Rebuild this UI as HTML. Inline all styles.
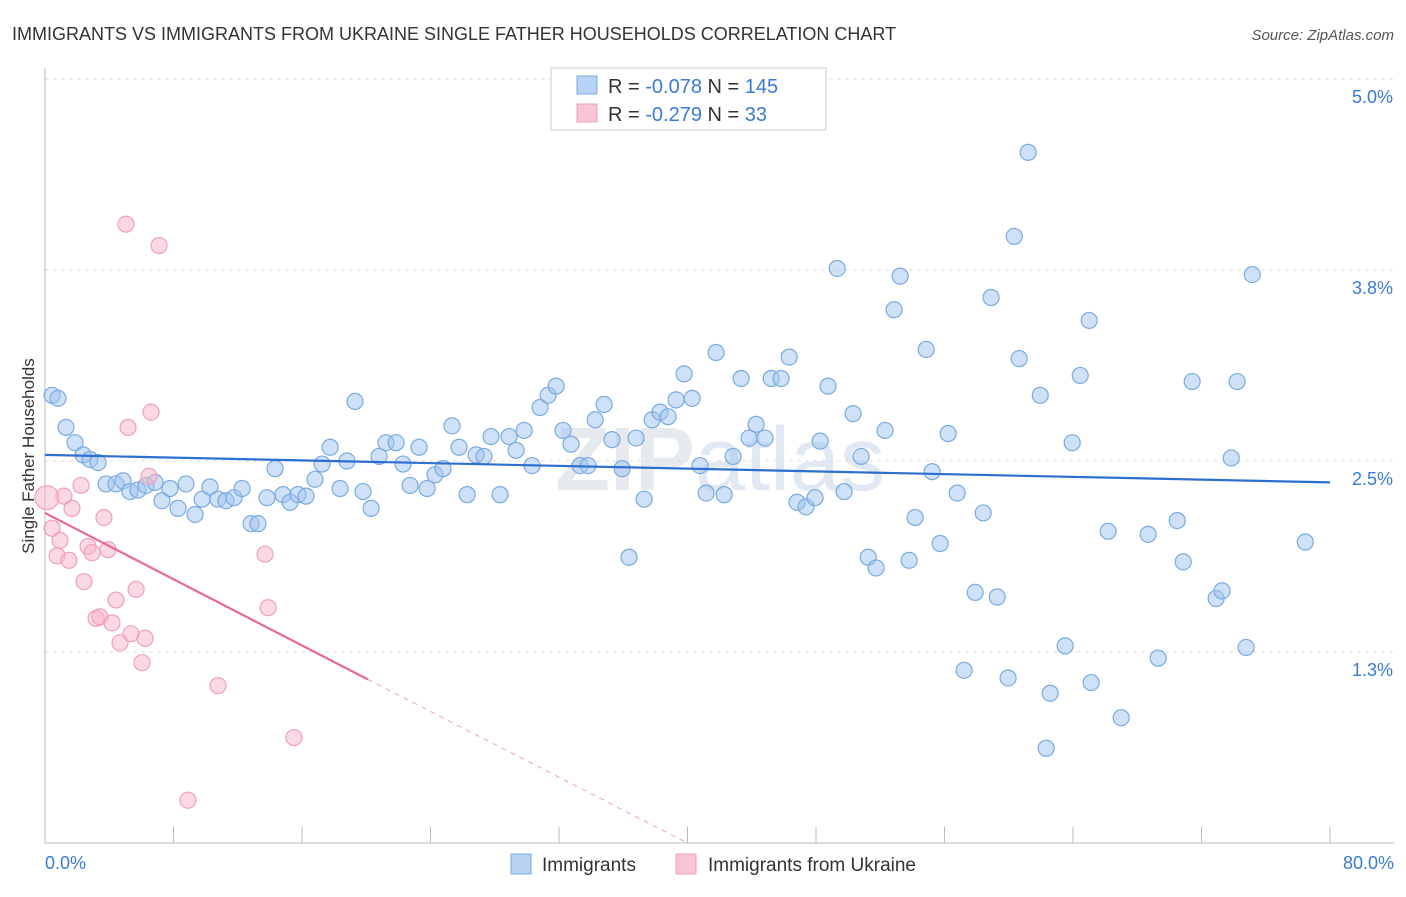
<!DOCTYPE html>
<html><head><meta charset="utf-8"><style>
body{margin:0;background:#fff;font-family:"Liberation Sans",sans-serif;}
svg text{font-family:"Liberation Sans",sans-serif;}
</style></head><body>
<svg id="chart" width="1406" height="892" viewBox="0 0 1406 892">
<text x="12" y="40" font-size="18" fill="#333">IMMIGRANTS VS IMMIGRANTS FROM UKRAINE SINGLE FATHER HOUSEHOLDS CORRELATION CHART</text>
<text x="1394" y="40" font-size="15" fill="#555" font-style="italic" text-anchor="end">Source: ZipAtlas.com</text>
<text x="720" y="490" font-size="90" fill="#e6e9ee" text-anchor="middle" font-weight="bold">ZIP<tspan font-weight="normal" fill="#dfe8f3">atlas</tspan></text>
<g id="grid"></g>
<g id="axes"></g>
<g id="marks"></g>
<g id="lines"></g>
<text x="34" y="456" font-size="17" fill="#333" text-anchor="middle" transform="rotate(-90 34 456)">Single Father Households</text>
<text x="45" y="869" font-size="18" fill="#3a7bd5">0.0%</text>
<text x="1394" y="869" font-size="18" fill="#3a7bd5" text-anchor="end">80.0%</text>
<g>
<rect x="551" y="68" width="275" height="62" fill="#fff" stroke="#ccc"/>
<rect x="577" y="76" width="20" height="18" fill="#b9d3f5" stroke="#7aaae0"/>
<rect x="577" y="104" width="20" height="18" fill="#f9c4d3" stroke="#f0a0b8"/>
<text x="608" y="93" font-size="20" fill="#333">R = <tspan fill="#3a7bd5">-0.078</tspan>    N = <tspan fill="#3a7bd5">145</tspan></text>
<text x="608" y="121" font-size="20" fill="#333">R = <tspan fill="#3a7bd5">-0.279</tspan>    N =   <tspan fill="#3a7bd5">33</tspan></text>
</g>
<g>
<rect x="511" y="854" width="20" height="20" fill="#b9d3f5" stroke="#7aaae0"/>
<text x="542" y="871" font-size="19" fill="#333">Immigrants</text>
<rect x="676" y="854" width="20" height="20" fill="#f9c4d3" stroke="#f0a0b8"/>
<text x="708" y="871" font-size="19" fill="#333">Immigrants from Ukraine</text>
</g>
</svg>
<script>
const yTicks=[5.0,3.75,2.5,1.25];
const yTickLabels=["5.0%","3.8%","2.5%","1.3%"];
const xTicks=[0,8,16,24,32,40,48,56,64,72,80];
const blueX=[0.44,0.81,1.31,1.87,2.37,2.80,3.30,3.80,4.42,4.86,5.29,5.79,6.29,6.85,7.28,7.78,8.28,8.78,9.34,9.78,10.27,10.77,11.27,11.77,12.27,12.83,13.26,13.82,14.32,14.82,15.26,15.75,16.25,16.81,17.25,17.75,18.37,18.80,19.30,19.80,20.30,20.80,21.23,21.86,22.29,22.73,23.29,23.79,24.28,24.78,25.34,25.78,26.28,26.84,27.33,27.77,28.33,28.89,29.33,29.83,30.32,30.82,31.32,31.82,32.25,32.75,33.31,33.81,34.25,34.81,35.30,35.93,36.36,36.80,37.30,37.80,38.29,38.79,39.29,39.79,40.29,40.78,41.16,41.78,42.28,42.84,43.34,43.84,44.27,44.83,45.21,45.83,46.33,46.82,47.38,47.94,48.26,48.75,49.32,49.75,50.31,50.81,51.25,51.74,52.30,52.86,53.24,53.80,54.17,54.86,55.23,55.73,56.23,56.79,57.22,57.91,58.41,58.90,59.28,59.96,60.34,60.65,61.21,61.96,62.33,62.58,63.51,63.95,64.45,65.01,65.13,66.19,67.00,68.68,69.30,70.49,70.86,71.42,72.91,73.28,73.85,74.22,74.78,75.16,78.46];
const blueY=[2.93,2.91,2.72,2.62,2.54,2.51,2.49,2.35,2.35,2.37,2.30,2.31,2.34,2.36,2.24,2.32,2.19,2.35,2.15,2.25,2.33,2.25,2.24,2.26,2.32,2.09,2.09,2.26,2.45,2.28,2.23,2.28,2.27,2.38,2.48,2.59,2.32,2.50,2.89,2.30,2.19,2.53,2.62,2.62,2.48,2.34,2.59,2.32,2.41,2.45,2.73,2.59,2.28,2.54,2.53,2.66,2.28,2.66,2.57,2.70,2.47,2.85,2.93,2.99,2.70,2.61,2.47,2.47,2.77,2.87,2.64,2.45,1.87,2.65,2.25,2.77,2.82,2.79,2.90,3.07,2.91,2.47,2.29,3.21,2.28,2.53,3.04,2.65,2.74,2.65,3.04,3.04,3.18,2.23,2.20,2.26,2.63,2.99,3.76,2.30,2.81,2.53,1.87,1.80,2.70,3.49,3.71,1.85,2.13,3.23,2.43,1.96,2.68,2.29,1.13,1.64,2.16,3.57,1.61,1.08,3.97,3.17,4.52,2.93,0.62,0.98,1.29,2.62,3.06,3.42,1.05,2.04,0.82,2.02,1.21,2.11,1.84,3.02,1.60,1.65,2.52,3.02,1.28,3.72,1.97];
const pinkX=[0.12,0.44,0.75,0.93,1.18,1.49,1.68,2.24,2.43,2.68,2.93,3.18,3.42,3.67,3.92,4.17,4.42,4.67,5.04,5.17,5.35,5.67,6.04,6.23,6.48,6.60,7.10,8.90,10.77,13.70,13.89,15.50];
const pinkY=[2.26,2.06,1.88,1.98,2.27,1.85,2.19,2.34,1.71,1.94,1.90,1.47,1.48,2.13,1.92,1.44,1.59,1.31,4.05,2.72,1.37,1.66,1.18,1.34,2.40,2.82,3.91,0.28,1.03,1.89,1.54,0.69];
const blueLine=[[0,2.54],[80,2.36]];
const pinkLine=[[0,2.16],[20.11,1.07]];
const pinkDash=[[20.11,1.07],[40,0]];
const NS="http://www.w3.org/2000/svg";
const X0=45,X1=1330,Y0=843,Ytop=79;
function sx(v){return X0+(v/80)*(X1-X0);}
function sy(v){return Y0-(v/5)*(Y0-Ytop);}
function mk(tag,attrs,parent){const e=document.createElementNS(NS,tag);for(const k in attrs)e.setAttribute(k,attrs[k]);document.getElementById(parent).appendChild(e);return e;}
yTicks.forEach((t,i)=>{
 const g=mk('line',{x1:X0,x2:1394,y1:sy(t),y2:sy(t),stroke:'#ddd','stroke-dasharray':'4,4'},'grid');
 
 
 const tx=mk('text',{x:1393,y:sy(t)+24,'font-size':18,fill:'#3a7bd5','text-anchor':'end'},'axes');
 tx.textContent=yTickLabels[i];
 
 
});
const ax=mk('line',{x1:X0,x2:1394,y1:Y0,y2:Y0,stroke:'#bbb'},'axes');


const ay=mk('line',{x1:X0,x2:X0,y1:68,y2:Y0,stroke:'#bbb'},'axes');


xTicks.forEach(t=>{
 const l=mk('line',{x1:sx(t),x2:sx(t),y1:Y0-16,y2:Y0,stroke:'#bbb'},'axes');
 
 
});
blueX.forEach((v,i)=>{
 const c=mk('circle',{cx:sx(v),cy:sy(blueY[i]),r:8,fill:'rgba(160,196,240,0.5)',stroke:'#7aaae0','stroke-width':1.2},'marks');
 
 
});
pinkX.forEach((v,i)=>{
 const c=mk('circle',{cx:sx(v),cy:sy(pinkY[i]),r:i===0?12:8,fill:'rgba(248,180,200,0.5)',stroke:'#f0a0b8','stroke-width':1.2},'marks');
 
 
});
const bl=mk('line',{x1:sx(blueLine[0][0]),y1:sy(blueLine[0][1]),x2:sx(blueLine[1][0]),y2:sy(blueLine[1][1]),stroke:'#2d6fd0','stroke-width':2.2},'lines');


const pl=mk('line',{x1:sx(pinkLine[0][0]),y1:sy(pinkLine[0][1]),x2:sx(pinkLine[1][0]),y2:sy(pinkLine[1][1]),stroke:'#e8689a','stroke-width':2.2},'lines');


const pd=mk('line',{x1:sx(pinkDash[0][0]),y1:sy(pinkDash[0][1]),x2:sx(pinkDash[1][0]),y2:sy(pinkDash[1][1]),stroke:'#f0a0b8','stroke-width':1,'stroke-dasharray':'5,5'},'lines');


</script>
</body></html>
